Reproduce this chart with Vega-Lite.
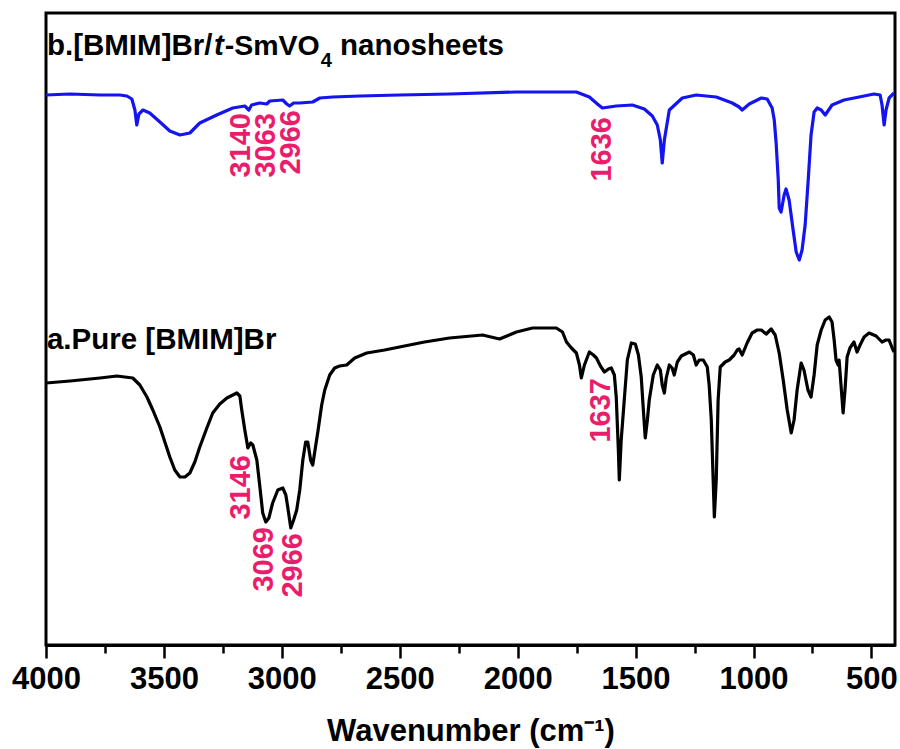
{
  "$schema": "https://vega.github.io/schema/vega-lite/v6.json",
  "width": 849,
  "height": 632,
  "autosize": {"type": "none"},
  "padding": {"left": 46, "top": 13, "right": 5, "bottom": 104},
  "background": "white",
  "config": {
    "view": {"stroke": "black", "strokeWidth": 3},
    "font": "Liberation Sans"
  },
  "datasets": {
    "spectra": [
      {"series":"b","wavenumber":4000,"T":550},{"series":"b","wavenumber":3898,"T":551},{"series":"b","wavenumber":3771,"T":550},{"series":"b","wavenumber":3687,"T":550},{"series":"b","wavenumber":3657,"T":549},{"series":"b","wavenumber":3636,"T":546},{"series":"b","wavenumber":3623,"T":535},{"series":"b","wavenumber":3615,"T":520},{"series":"b","wavenumber":3606,"T":531},{"series":"b","wavenumber":3589,"T":535},{"series":"b","wavenumber":3560,"T":532},{"series":"b","wavenumber":3517,"T":523},{"series":"b","wavenumber":3475,"T":514},{"series":"b","wavenumber":3432,"T":510},{"series":"b","wavenumber":3390,"T":512},{"series":"b","wavenumber":3348,"T":522},{"series":"b","wavenumber":3276,"T":530},{"series":"b","wavenumber":3208,"T":537},{"series":"b","wavenumber":3157,"T":539},{"series":"b","wavenumber":3140,"T":535},{"series":"b","wavenumber":3128,"T":540},{"series":"b","wavenumber":3094,"T":542},{"series":"b","wavenumber":3064,"T":541},{"series":"b","wavenumber":3051,"T":544},{"series":"b","wavenumber":2996,"T":545},{"series":"b","wavenumber":2979,"T":541},{"series":"b","wavenumber":2967,"T":539},{"series":"b","wavenumber":2950,"T":542},{"series":"b","wavenumber":2924,"T":542},{"series":"b","wavenumber":2869,"T":543},{"series":"b","wavenumber":2839,"T":547},{"series":"b","wavenumber":2784,"T":548},{"series":"b","wavenumber":2670,"T":549},{"series":"b","wavenumber":2501,"T":550},{"series":"b","wavenumber":2289,"T":551},{"series":"b","wavenumber":2005,"T":553},{"series":"b","wavenumber":1751,"T":553},{"series":"b","wavenumber":1696,"T":548},{"series":"b","wavenumber":1662,"T":541},{"series":"b","wavenumber":1641,"T":537},{"series":"b","wavenumber":1611,"T":538},{"series":"b","wavenumber":1582,"T":539},{"series":"b","wavenumber":1514,"T":540},{"series":"b","wavenumber":1463,"T":536},{"series":"b","wavenumber":1429,"T":529},{"series":"b","wavenumber":1408,"T":520},{"series":"b","wavenumber":1395,"T":505},{"series":"b","wavenumber":1387,"T":482},{"series":"b","wavenumber":1378,"T":505},{"series":"b","wavenumber":1357,"T":535},{"series":"b","wavenumber":1302,"T":547},{"series":"b","wavenumber":1243,"T":550},{"series":"b","wavenumber":1158,"T":548},{"series":"b","wavenumber":1090,"T":542},{"series":"b","wavenumber":1061,"T":538},{"series":"b","wavenumber":1048,"T":535},{"series":"b","wavenumber":1018,"T":541},{"series":"b","wavenumber":967,"T":547},{"series":"b","wavenumber":942,"T":546},{"series":"b","wavenumber":921,"T":537},{"series":"b","wavenumber":912,"T":525},{"series":"b","wavenumber":904,"T":502},{"series":"b","wavenumber":895,"T":465},{"series":"b","wavenumber":891,"T":437},{"series":"b","wavenumber":883,"T":433},{"series":"b","wavenumber":870,"T":450},{"series":"b","wavenumber":862,"T":456},{"series":"b","wavenumber":849,"T":445},{"series":"b","wavenumber":832,"T":415},{"series":"b","wavenumber":819,"T":393},{"series":"b","wavenumber":806,"T":385},{"series":"b","wavenumber":794,"T":395},{"series":"b","wavenumber":781,"T":420},{"series":"b","wavenumber":768,"T":465},{"series":"b","wavenumber":756,"T":510},{"series":"b","wavenumber":743,"T":533},{"series":"b","wavenumber":730,"T":537},{"series":"b","wavenumber":713,"T":535},{"series":"b","wavenumber":696,"T":530},{"series":"b","wavenumber":667,"T":540},{"series":"b","wavenumber":616,"T":545},{"series":"b","wavenumber":552,"T":548},{"series":"b","wavenumber":489,"T":551},{"series":"b","wavenumber":463,"T":550},{"series":"b","wavenumber":455,"T":540},{"series":"b","wavenumber":446,"T":520},{"series":"b","wavenumber":438,"T":535},{"series":"b","wavenumber":425,"T":547},{"series":"b","wavenumber":404,"T":552},
      {"series":"a","wavenumber":4000,"T":262},{"series":"a","wavenumber":3898,"T":264},{"series":"a","wavenumber":3771,"T":267},{"series":"a","wavenumber":3699,"T":269},{"series":"a","wavenumber":3632,"T":267},{"series":"a","wavenumber":3602,"T":260},{"series":"a","wavenumber":3572,"T":248},{"series":"a","wavenumber":3547,"T":235},{"series":"a","wavenumber":3517,"T":218},{"series":"a","wavenumber":3475,"T":188},{"series":"a","wavenumber":3454,"T":175},{"series":"a","wavenumber":3432,"T":168},{"series":"a","wavenumber":3411,"T":168},{"series":"a","wavenumber":3390,"T":172},{"series":"a","wavenumber":3369,"T":183},{"series":"a","wavenumber":3348,"T":198},{"series":"a","wavenumber":3318,"T":217},{"series":"a","wavenumber":3293,"T":232},{"series":"a","wavenumber":3263,"T":241},{"series":"a","wavenumber":3233,"T":247},{"series":"a","wavenumber":3191,"T":252},{"series":"a","wavenumber":3178,"T":249},{"series":"a","wavenumber":3170,"T":235},{"series":"a","wavenumber":3157,"T":215},{"series":"a","wavenumber":3144,"T":197},{"series":"a","wavenumber":3132,"T":202},{"series":"a","wavenumber":3123,"T":200},{"series":"a","wavenumber":3106,"T":185},{"series":"a","wavenumber":3094,"T":160},{"series":"a","wavenumber":3081,"T":132},{"series":"a","wavenumber":3068,"T":123},{"series":"a","wavenumber":3055,"T":127},{"series":"a","wavenumber":3039,"T":142},{"series":"a","wavenumber":3017,"T":155},{"series":"a","wavenumber":2996,"T":157},{"series":"a","wavenumber":2983,"T":150},{"series":"a","wavenumber":2975,"T":138},{"series":"a","wavenumber":2962,"T":117},{"series":"a","wavenumber":2950,"T":125},{"series":"a","wavenumber":2937,"T":135},{"series":"a","wavenumber":2924,"T":155},{"series":"a","wavenumber":2911,"T":185},{"series":"a","wavenumber":2899,"T":203},{"series":"a","wavenumber":2890,"T":203},{"series":"a","wavenumber":2878,"T":185},{"series":"a","wavenumber":2869,"T":180},{"series":"a","wavenumber":2856,"T":200},{"series":"a","wavenumber":2848,"T":212},{"series":"a","wavenumber":2831,"T":240},{"series":"a","wavenumber":2818,"T":255},{"series":"a","wavenumber":2797,"T":270},{"series":"a","wavenumber":2776,"T":277},{"series":"a","wavenumber":2755,"T":279},{"series":"a","wavenumber":2725,"T":280},{"series":"a","wavenumber":2691,"T":287},{"series":"a","wavenumber":2640,"T":292},{"series":"a","wavenumber":2564,"T":295},{"series":"a","wavenumber":2501,"T":298},{"series":"a","wavenumber":2395,"T":303},{"series":"a","wavenumber":2289,"T":307},{"series":"a","wavenumber":2149,"T":310},{"series":"a","wavenumber":2077,"T":306},{"series":"a","wavenumber":2005,"T":313},{"series":"a","wavenumber":1937,"T":317},{"series":"a","wavenumber":1836,"T":317},{"series":"a","wavenumber":1810,"T":313},{"series":"a","wavenumber":1793,"T":303},{"series":"a","wavenumber":1772,"T":297},{"series":"a","wavenumber":1751,"T":292},{"series":"a","wavenumber":1738,"T":280},{"series":"a","wavenumber":1730,"T":267},{"series":"a","wavenumber":1717,"T":280},{"series":"a","wavenumber":1696,"T":293},{"series":"a","wavenumber":1679,"T":290},{"series":"a","wavenumber":1666,"T":287},{"series":"a","wavenumber":1649,"T":279},{"series":"a","wavenumber":1632,"T":273},{"series":"a","wavenumber":1615,"T":276},{"series":"a","wavenumber":1603,"T":277},{"series":"a","wavenumber":1590,"T":270},{"series":"a","wavenumber":1582,"T":248},{"series":"a","wavenumber":1573,"T":195},{"series":"a","wavenumber":1569,"T":165},{"series":"a","wavenumber":1561,"T":205},{"series":"a","wavenumber":1548,"T":245},{"series":"a","wavenumber":1535,"T":285},{"series":"a","wavenumber":1518,"T":302},{"series":"a","wavenumber":1501,"T":301},{"series":"a","wavenumber":1488,"T":290},{"series":"a","wavenumber":1476,"T":268},{"series":"a","wavenumber":1467,"T":235},{"series":"a","wavenumber":1459,"T":207},{"series":"a","wavenumber":1450,"T":225},{"series":"a","wavenumber":1442,"T":245},{"series":"a","wavenumber":1425,"T":270},{"series":"a","wavenumber":1408,"T":280},{"series":"a","wavenumber":1395,"T":275},{"series":"a","wavenumber":1387,"T":260},{"series":"a","wavenumber":1378,"T":252},{"series":"a","wavenumber":1370,"T":267},{"series":"a","wavenumber":1357,"T":280},{"series":"a","wavenumber":1345,"T":277},{"series":"a","wavenumber":1336,"T":270},{"series":"a","wavenumber":1323,"T":283},{"series":"a","wavenumber":1306,"T":289},{"series":"a","wavenumber":1272,"T":293},{"series":"a","wavenumber":1255,"T":290},{"series":"a","wavenumber":1243,"T":280},{"series":"a","wavenumber":1230,"T":285},{"series":"a","wavenumber":1213,"T":285},{"series":"a","wavenumber":1196,"T":278},{"series":"a","wavenumber":1188,"T":260},{"series":"a","wavenumber":1179,"T":225},{"series":"a","wavenumber":1171,"T":165},{"series":"a","wavenumber":1166,"T":128},{"series":"a","wavenumber":1158,"T":165},{"series":"a","wavenumber":1150,"T":245},{"series":"a","wavenumber":1141,"T":278},{"series":"a","wavenumber":1120,"T":283},{"series":"a","wavenumber":1103,"T":285},{"series":"a","wavenumber":1082,"T":290},{"series":"a","wavenumber":1069,"T":295},{"series":"a","wavenumber":1061,"T":296},{"series":"a","wavenumber":1048,"T":290},{"series":"a","wavenumber":1027,"T":302},{"series":"a","wavenumber":1006,"T":312},{"series":"a","wavenumber":984,"T":315},{"series":"a","wavenumber":967,"T":315},{"series":"a","wavenumber":946,"T":311},{"series":"a","wavenumber":925,"T":316},{"series":"a","wavenumber":908,"T":310},{"series":"a","wavenumber":891,"T":292},{"series":"a","wavenumber":874,"T":265},{"series":"a","wavenumber":857,"T":235},{"series":"a","wavenumber":840,"T":212},{"series":"a","wavenumber":828,"T":225},{"series":"a","wavenumber":815,"T":255},{"series":"a","wavenumber":798,"T":282},{"series":"a","wavenumber":786,"T":275},{"series":"a","wavenumber":769,"T":255},{"series":"a","wavenumber":756,"T":248},{"series":"a","wavenumber":743,"T":270},{"series":"a","wavenumber":730,"T":300},{"series":"a","wavenumber":713,"T":315},{"series":"a","wavenumber":696,"T":325},{"series":"a","wavenumber":679,"T":328},{"series":"a","wavenumber":667,"T":323},{"series":"a","wavenumber":658,"T":305},{"series":"a","wavenumber":650,"T":285},{"series":"a","wavenumber":641,"T":280},{"series":"a","wavenumber":637,"T":285},{"series":"a","wavenumber":629,"T":260},{"series":"a","wavenumber":620,"T":232},{"series":"a","wavenumber":612,"T":255},{"series":"a","wavenumber":603,"T":288},{"series":"a","wavenumber":591,"T":297},{"series":"a","wavenumber":574,"T":303},{"series":"a","wavenumber":561,"T":293},{"series":"a","wavenumber":548,"T":300},{"series":"a","wavenumber":531,"T":308},{"series":"a","wavenumber":510,"T":312},{"series":"a","wavenumber":480,"T":309},{"series":"a","wavenumber":455,"T":303},{"series":"a","wavenumber":438,"T":305},{"series":"a","wavenumber":425,"T":305},{"series":"a","wavenumber":412,"T":297},{"series":"a","wavenumber":404,"T":293}
    ],
    "peaks": [
      {"label":"3140","wavenumber":3174,"T":532},
      {"label":"3063","wavenumber":3068,"T":532},
      {"label":"2966","wavenumber":2960,"T":535},
      {"label":"1636","wavenumber":1643,"T":528},
      {"label":"3146","wavenumber":3174,"T":190},
      {"label":"3069","wavenumber":3077,"T":118},
      {"label":"2966","wavenumber":2952,"T":112},
      {"label":"1637","wavenumber":1647,"T":267}
    ],
    "titles": [
      {"text":"b.[BMIM]Br/","wavenumber":3996,"T":590},
      {"text":"nanosheets","wavenumber":2753,"T":590},
      {"text":"a.Pure [BMIM]Br","wavenumber":3996,"T":296}
    ],
    "italic": [
      {"text":"t","wavenumber":3288,"T":590}
    ],
    "mid": [
      {"text":"-SmVO","wavenumber":3242,"T":590}
    ],
    "subs": [
      {"text":"4","wavenumber":2835,"T":578}
    ]
  },
  "encoding": {
    "x": {
      "field": "wavenumber",
      "type": "quantitative",
      "scale": {"domain": [400, 4000], "reverse": true, "nice": false, "zero": false},
      "axis": {
        "title": "Wavenumber (cm⁻¹)",
        "values": [4000,3750,3500,3250,3000,2750,2500,2250,2000,1750,1500,1250,1000,750,500],
        "format": "d",
        "labelExpr": "datum.value % 500 === 0 ? datum.label : ''",
        "tickSize": {"condition": {"test": "datum.value % 500 === 0", "value": 13}, "value": 8},
        "tickWidth": 2.5,
        "tickColor": "black",
        "domainColor": "black",
        "domainWidth": 3,
        "grid": false,
        "labelFont": "Liberation Sans",
        "labelFontWeight": "bold",
        "labelFontSize": 31,
        "labelColor": "black",
        "labelPadding": 6,
        "labelFlush": false,
        "labelOverlap": false,
        "titleFont": "Liberation Sans",
        "titleFontWeight": "bold",
        "titleFontSize": 31,
        "titleColor": "black",
        "titlePadding": 22
      }
    },
    "y": {
      "field": "T",
      "type": "quantitative",
      "scale": {"domain": [0, 632], "nice": false, "zero": false},
      "axis": null
    }
  },
  "layer": [
    {
      "data": {"name": "spectra"},
      "mark": {"type": "line", "strokeWidth": 3.2, "strokeJoin": "round", "clip": true},
      "encoding": {
        "color": {
          "field": "series",
          "type": "nominal",
          "scale": {"domain": ["a", "b"], "range": ["#000000", "#1414F0"]},
          "legend": null
        }
      }
    },
    {
      "data": {"name": "peaks"},
      "mark": {"type": "text", "angle": 270, "align": "right", "baseline": "middle", "font": "Liberation Sans", "fontWeight": "bold", "fontSize": 29, "color": "#EC1C6C"},
      "encoding": {"text": {"field": "label"}}
    },
    {
      "data": {"name": "titles"},
      "mark": {"type": "text", "align": "left", "baseline": "alphabetic", "font": "Liberation Sans", "fontWeight": "bold", "fontSize": 29.5, "color": "black"},
      "encoding": {"text": {"field": "text"}}
    },
    {
      "data": {"name": "italic"},
      "mark": {"type": "text", "align": "left", "baseline": "alphabetic", "font": "Liberation Sans", "fontWeight": "bold", "fontStyle": "italic", "fontSize": 29.5, "color": "black"},
      "encoding": {"text": {"field": "text"}}
    },
    {
      "data": {"name": "mid"},
      "mark": {"type": "text", "align": "left", "baseline": "alphabetic", "font": "Liberation Sans", "fontWeight": "bold", "fontSize": 28.5, "color": "black"},
      "encoding": {"text": {"field": "text"}}
    },
    {
      "data": {"name": "subs"},
      "mark": {"type": "text", "align": "left", "baseline": "alphabetic", "font": "Liberation Sans", "fontWeight": "bold", "fontSize": 20, "color": "black"},
      "encoding": {"text": {"field": "text"}}
    }
  ]
}
